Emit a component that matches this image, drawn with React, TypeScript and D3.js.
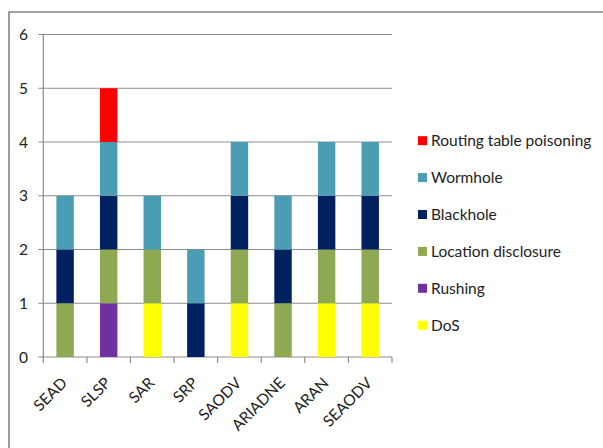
import React from "react";
import * as d3 from "d3";

const categories = ["SEAD", "SLSP", "SAR", "SRP", "SAODV", "ARIADNE", "ARAN", "SEAODV"];
const seriesNames = ["DoS", "Rushing", "Location disclosure", "Blackhole", "Wormhole", "Routing table poisoning"];
const dos = [0, 0, 1, 0, 1, 0, 1, 1];
const rushing = [0, 1, 0, 0, 0, 0, 0, 0];
const locationDisclosure = [1, 1, 1, 0, 1, 1, 1, 1];
const blackhole = [1, 1, 0, 1, 1, 1, 1, 1];
const wormhole = [1, 1, 1, 1, 1, 1, 1, 1];
const routingTablePoisoning = [0, 1, 0, 0, 0, 0, 0, 0];
const yTicks = [0, 1, 2, 3, 4, 5, 6];
const colors = ["#FFFF00", "#7030A0", "#8FA952", "#002060", "#4A9DB3", "#FF0000"];

const seriesValues = [dos, rushing, locationDisclosure, blackhole, wormhole, routingTablePoisoning];

export default function App() {
  const W = 603, H = 448;
  const x0 = 43.3, x1 = 392, y0 = 357, y1 = 34.5;
  const font = "Lato, 'Noto Sans', sans-serif";
  const fs = 15.5;
  const x = d3.scaleBand<string>().domain(categories).range([x0, x1]).paddingInner(0.6).paddingOuter(0.3);
  const y = d3.scaleLinear().domain([0, 6]).range([y0, y1]);
  const table = categories.map((c, i) => {
    const row: any = { cat: c };
    seriesNames.forEach((s, k) => (row[s] = seriesValues[k][i]));
    return row;
  });
  const stacked = d3.stack<any>().keys(seriesNames)(table);
  const boundaries = d3.range(categories.length + 1).map((i) => x0 + i * ((x1 - x0) / categories.length));
  const legendOrder = [...seriesNames].reverse();

  return (
    <svg width={W} height={H} style={{ position: "absolute", left: 0, top: 0, background: "#fff" }}>
      <path d={`M9,${H + 2} V12 H${W + 2}`} fill="none" stroke="#868686" strokeWidth={1.6} />
      {yTicks.map((t) => (
        <g key={t}>
          <line x1={x0 - 5} x2={x1} y1={y(t)} y2={y(t)} stroke={"#8c8c8c"} strokeWidth={1.2} />
          <text x={28} y={y(t)} dy="0.36em" textAnchor="end" fontFamily={font} fontSize={fs} fill="#222">{t}</text>
        </g>
      ))}
      <line x1={x0} x2={x0} y1={y1} y2={y0} stroke="#8c8c8c" strokeWidth={1.2} />
      {boundaries.map((b, i) => (
        <line key={i} x1={b} x2={b} y1={y0} y2={y0 + 6} stroke="#8c8c8c" strokeWidth={1.2} />
      ))}
      {stacked.map((layer, k) => (
        <g key={layer.key} fill={colors[k]}>
          {layer.map((d, i) =>
            d[1] - d[0] > 0 ? (
              <rect key={i} x={x(categories[i])} width={x.bandwidth()} y={y(d[1])} height={y(d[0]) - y(d[1])} />
            ) : null
          )}
        </g>
      ))}
      {categories.map((c) => {
        const cx = x(c)! + x.bandwidth() / 2;
        return (
          <text key={c} transform={`translate(${cx + 3},${384}) rotate(-45)`} textAnchor="end" fontFamily={font} fontSize={fs} fill="#222">{c}</text>
        );
      })}
      {legendOrder.map((s, i) => {
        const k = seriesNames.indexOf(s);
        const cy = 140.7 + i * 36.9;
        return (
          <g key={s}>
            <rect x={418} y={cy - 4.5} width={9} height={9} fill={colors[k]} />
            <text x={431} y={cy} dy="0.36em" fontFamily={font} fontSize={fs} fill="#222">{s}</text>
          </g>
        );
      })}
    </svg>
  );
}
